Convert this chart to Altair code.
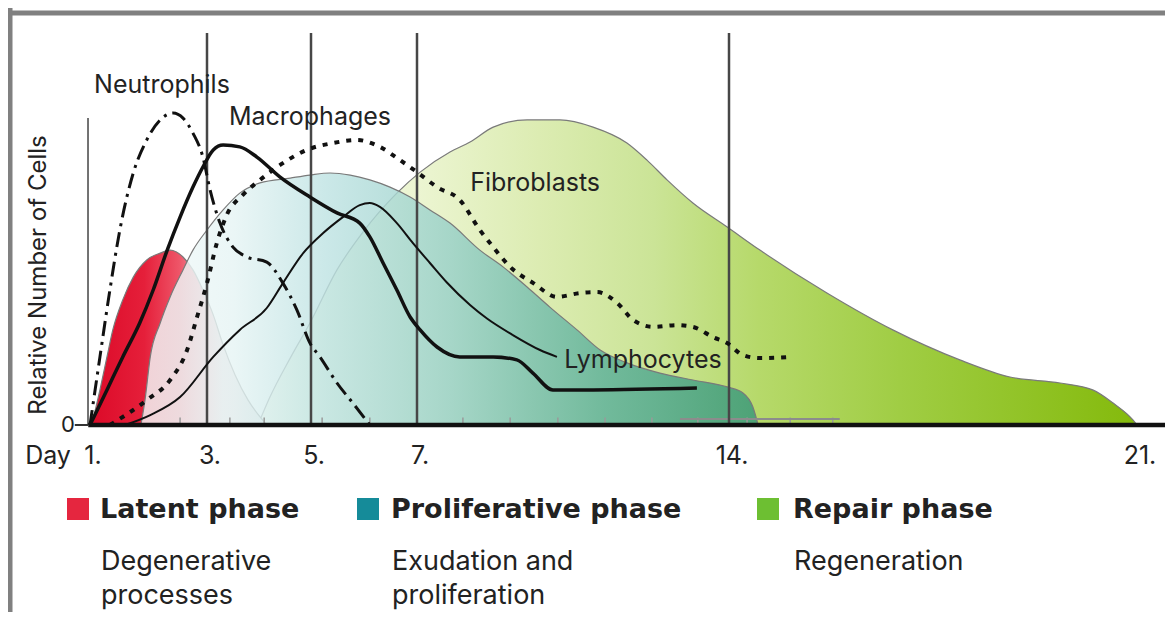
import altair as alt
import pandas as pd

# ---------------- data ----------------
# x axis (days) and its labels
tick_days = [1, 3, 5, 7, 14, 21]
tick_labels = ["1.", "3.", "5.", "7.", "14.", "21."]
phase_line_days = [3, 5, 7, 14]
minor_tick_days = [2.54, 3.44, 4.1, 5.21, 6.11, 8.03, 9.09, 10.16, 11.22, 12.27, 13.3, 14.31, 15.05, 15.78]

# phase areas (day, relative number of cells)
latent_day = [1.03, 1.17, 1.29, 1.39, 1.56, 1.74, 1.97, 2.20, 2.37, 2.59, 2.76, 2.93, 3.12, 3.31, 3.54, 3.79, 4.02, 4.15]
latent_val = [0, 11.7, 22.7, 31.7, 41.7, 49.3, 55, 57.3, 58.3, 56, 51.7, 45, 36.7, 26.7, 16.7, 8.3, 2.7, 0]

prolif_day = [1.87, 1.94, 2.03, 2.20, 2.37, 2.59, 2.76, 3.0, 3.31, 3.63, 4.02, 4.60, 4.98, 5.36, 5.74, 6.11, 6.49,
              6.87, 7.29, 7.74, 8.41, 8.93, 9.47, 9.98, 10.59, 11.11, 11.71, 12.45, 13.19, 13.96, 14.24, 14.41, 14.50]
prolif_val = [0, 8.3, 22.7, 34, 42.7, 51.7, 58.3, 65, 71.7, 77.3, 80.7, 82.3, 83.3, 84, 83.3, 81.7, 79.3,
              76, 71.7, 67.3, 58.3, 52.7, 46, 39.3, 31.7, 25, 20.7, 17.3, 15, 12.7, 10.7, 6, 0]

repair_day = [3.98, 4.21, 4.60, 4.98, 5.49, 5.98, 6.62, 7.07, 7.74, 8.19, 8.71, 9.47, 10.21, 10.95, 11.71, 12.16,
              12.61, 13.19, 13.96, 14.53, 15.68, 16.81, 17.96, 18.82, 19.68, 20.24, 20.59, 20.93, 21.0]
repair_val = [0, 9.3, 22.3, 34, 51.7, 64.3, 77.3, 84.3, 91, 94.3, 99.3, 101.7, 101.7, 99.3, 94, 88.3,
              81.7, 74, 66, 58.3, 44, 31.7, 21.7, 16, 14, 11.7, 7.3, 1.7, 0]

# cell curves
neutro_day = [1.0, 1.17, 1.34, 1.51, 1.74, 1.97, 2.20, 2.42, 2.59, 2.76, 2.93, 3.06, 3.25, 3.50, 3.77, 4.15,
              4.46, 4.73, 4.98, 5.17, 5.49, 5.79, 6.11]
neutro_val = [0, 22.7, 45, 65, 84, 95, 101.7, 104, 102.3, 97.3, 89.3, 78.3, 67.3, 59.3, 56, 54.3,
              47.3, 38.3, 27.3, 22.7, 14, 7.3, 0]

macro_day = [1.0, 1.29, 1.56, 1.85, 2.08, 2.32, 2.54, 2.76, 2.93, 3.12, 3.31, 3.63, 3.96, 4.40, 4.98, 5.49,
             5.92, 6.11, 6.36, 6.62, 6.87, 7.07, 7.45, 7.96, 8.71, 9.24, 9.60, 10.05, 10.95, 13.28]
macro_val = [0, 11.7, 22.7, 34, 45, 58.3, 69.3, 79.3, 86, 91.7, 93.3, 92.7, 89.3, 82.7, 76, 70.7,
             67.3, 62.7, 54, 45, 36, 31.7, 26, 22.7, 22.7, 21.7, 17.3, 11.7, 11.7, 12.3]

lympho_day = [1.60, 2.03, 2.54, 3.12, 3.63, 4.15, 4.46, 4.85, 5.23, 5.60, 5.92, 6.11, 6.30, 6.62, 6.92, 7.29,
              7.67, 8.19, 8.57, 9.15, 9.76, 10.14]
lympho_val = [0, 3.3, 9.3, 22.7, 31.7, 39, 47.3, 57.3, 64, 69.3, 73.3, 74, 72.7, 67.3, 60.7, 54,
              47.5, 40, 35.5, 30, 25, 22.7]

fibro_day = [1.34, 1.97, 2.37, 2.66, 2.83, 3.0, 3.19, 3.38, 3.69, 4.02, 4.46, 4.92, 5.42, 5.87, 6.30, 6.68,
             7.0, 7.45, 7.96, 8.41, 8.71, 9.09, 9.61, 10.14, 10.66, 11.04, 11.49, 11.85, 12.30, 12.83, 13.19,
             13.64, 13.96, 14.24, 14.53, 15.05]
fibro_val = [0, 8.3, 15, 25, 36, 47.3, 60.7, 70, 76.7, 81.7, 87.3, 91.7, 94, 95, 92.7, 88.3,
             84.3, 79.3, 75, 65, 59.3, 52.7, 47.3, 42.7, 44, 44.3, 40.7, 35, 32.7, 33.3, 32.7,
             29.3, 27.3, 23.3, 22.3, 22.7]

# curve labels
cell_names = ["Neutrophils", "Macrophages", "Fibroblasts", "Lymphocytes"]
cell_label_day = [2.23, 4.98, 9.65, 12.07]
cell_label_val = [113.3, 102.7, 80.7, 21.7]

# legend
phase_names = ["Latent phase", "Proliferative phase", "Repair phase"]
phase_desc1 = ["Degenerative", "Exudation and", "Regeneration"]
phase_desc2 = ["processes", "proliferation", ""]
phase_colors = ["#e5263f", "#158b99", "#6dbf32"]

# ---------------- layout ----------------
W, H = 1155, 599
PAD = {"left": 2, "top": 5, "right": 0, "bottom": 0}
X_SCALE = alt.Scale(domain=tick_days, range=[80, 197, 301, 407, 719, 1127], nice=False, zero=False)
Y_SCALE = alt.Scale(domain=[0, 100], range=[412, 112], nice=False, zero=False)
PHASE_LINE_TOP = 130.7
YAXIS_DAY, YAXIS_TOP = 0.966, 102.3
BASE_FROM, BASE_TO = 0.97, 21.51
TXT = "#222222"
FONT = "Inter"


def xq(field="day"):
    return alt.X(f"{field}:Q", scale=X_SCALE, axis=None)


def yq(field="val"):
    return alt.Y(f"{field}:Q", scale=Y_SCALE, axis=None)


def grad(stops):
    return {"gradient": "linear", "x1": 0, "x2": 1, "y1": 0, "y2": 0,
            "stops": [{"offset": o, "color": c} for o, c in stops]}


def area(days, vals, fill, opacity=1.0):
    df = pd.DataFrame({"day": days, "val": vals})
    return alt.Chart(df).mark_area(interpolate="monotone", fill=fill, fillOpacity=opacity,
                                   stroke="#7a7a7a", strokeWidth=1.2).encode(x=xq(), y=yq())


def line(days, vals, width, dash=None, cap="butt"):
    df = pd.DataFrame({"day": days, "val": vals})
    kw = dict(interpolate="monotone", color="#111111", strokeWidth=width, strokeCap=cap)
    if dash:
        kw["strokeDash"] = dash
    return alt.Chart(df).mark_line(**kw).encode(x=xq(), y=yq())


green = area(repair_day, repair_val, grad([(0, "#f4f9e6"), (0.18, "#ecf5d2"), (0.32, "#dcecb2"),
                                           (0.45, "#cbe497"), (0.57, "#b6d96a"), (0.73, "#a0cd44"),
                                           (1, "#84ba0c")]))
red = area(latent_day, latent_val, grad([(0, "#dc0a28"), (0.3, "#e51f3a"), (0.5, "#ee5568"),
                                         (0.6, "#f08a98"), (0.75, "#e8d4d8"), (1, "#e2e2e2")]))
teal = area(prolif_day, prolif_val, grad([(0, "#f4fafa"), (0.15, "#e6f4f4"), (0.3, "#bfe3e3"),
                                          (0.5, "#98d0c8"), (0.75, "#5cb09a"), (1, "#369678")]), 0.82)

minor = alt.Chart(pd.DataFrame({"day": minor_tick_days, "v0": 0.0, "v1": 2.5})).mark_rule(
    color="#9a9a9a", strokeWidth=1.5).encode(x=xq(), y=yq("v0"), y2="v1:Q")
graybar = alt.Chart(pd.DataFrame({"d0": [12.9], "d1": [15.9], "v": [2.0]})).mark_rule(
    color="#8c8c8c", strokeWidth=2).encode(x=xq("d0"), x2="d1:Q", y=yq("v"))

phase_lines = alt.Chart(pd.DataFrame({"day": phase_line_days, "v0": 0.0, "v1": PHASE_LINE_TOP})).mark_rule(
    color="#474747", strokeWidth=2.5).encode(x=xq(), y=yq("v0"), y2="v1:Q")
yaxis_line = alt.Chart(pd.DataFrame({"day": [YAXIS_DAY], "v0": [0.0], "v1": [YAXIS_TOP]})).mark_rule(
    color="#444444", strokeWidth=1.5).encode(x=xq(), y=yq("v0"), y2="v1:Q")
baseline = alt.Chart(pd.DataFrame({"d0": [BASE_FROM], "d1": [BASE_TO], "v": [0.0]})).mark_rule(
    color="#111111", strokeWidth=4.5).encode(x=xq("d0"), x2="d1:Q", y=yq("v"))
zero_tick = alt.Chart(pd.DataFrame({"d0": [0.74], "d1": [0.97], "v": [0.0]})).mark_rule(
    color="#333333", strokeWidth=2).encode(x=xq("d0"), x2="d1:Q", y=yq("v"))

neutro = line(neutro_day, neutro_val, 3, [15, 6, 3, 6])
macro = line(macro_day, macro_val, 3.5)
lympho = line(lympho_day, lympho_val, 2)
fibro = line(fibro_day, fibro_val, 4, [5, 7])

labels = alt.Chart(pd.DataFrame({"name": cell_names, "day": cell_label_day, "val": cell_label_val})).mark_text(
    font=FONT, fontSize=25, color=TXT, align="center", baseline="middle").encode(x=xq(), y=yq(), text="name:N")

ticks_txt = alt.Chart(pd.DataFrame({"day": tick_days, "lab": tick_labels})).mark_text(
    font=FONT, fontSize=25, color=TXT, align="center", baseline="alphabetic", dx=3).encode(
    x=xq(), y=alt.value(451), text="lab:N")


def free_text(s, x, y, size=25, weight="normal", font=FONT, align="left", baseline="alphabetic", angle=0):
    return alt.Chart(pd.DataFrame({"t": [s]})).mark_text(
        font=font, fontSize=size, fontWeight=weight, color=TXT, align=align, baseline=baseline,
        angle=angle).encode(x=alt.value(x), y=alt.value(y), text="t:N")


day_txt = free_text("Day", 38, 451, align="center")
zero_txt = free_text("0", 58, 412, size=22, align="center", baseline="middle")
ytitle = free_text("Relative Number of Cells", 29, 262, size=24, align="center", baseline="middle", angle=270)

legend_layers = []
sq_x = [68, 358, 758]
tx_x = [90, 381, 783]
for i in range(3):
    legend_layers.append(alt.Chart(pd.DataFrame({"p": [phase_names[i]]})).mark_square(
        size=484, opacity=1, color=phase_colors[i]).encode(x=alt.value(sq_x[i]), y=alt.value(496)))
    legend_layers.append(free_text(phase_names[i], tx_x[i], 505, size=27, weight="bold", font="DejaVu Sans"))
    legend_layers.append(free_text(phase_desc1[i], tx_x[i] + 1, 557, size=27))
    if phase_desc2[i]:
        legend_layers.append(free_text(phase_desc2[i], tx_x[i] + 1, 591, size=27))

frame_df = pd.DataFrame({"f": [0]})
frame_top = alt.Chart(frame_df).mark_rule(color="#808080", strokeWidth=5).encode(
    x=alt.value(-2), x2=alt.value(W), y=alt.value(0))
frame_left = alt.Chart(frame_df).mark_rule(color="#808080", strokeWidth=5).encode(
    x=alt.value(0), y=alt.value(-5), y2=alt.value(H))

chart = alt.layer(
    green, red, teal, minor, graybar, phase_lines, yaxis_line, baseline, zero_tick,
    neutro, macro, lympho, fibro, labels, ticks_txt, day_txt, zero_txt, ytitle,
    *legend_layers, frame_top, frame_left
).properties(
    width=W, height=H, padding=PAD, autosize=alt.AutoSizeParams(type="none")
).configure_view(stroke=None)

chart.save("out.html", embed_options={"renderer": "svg", "actions": False})
